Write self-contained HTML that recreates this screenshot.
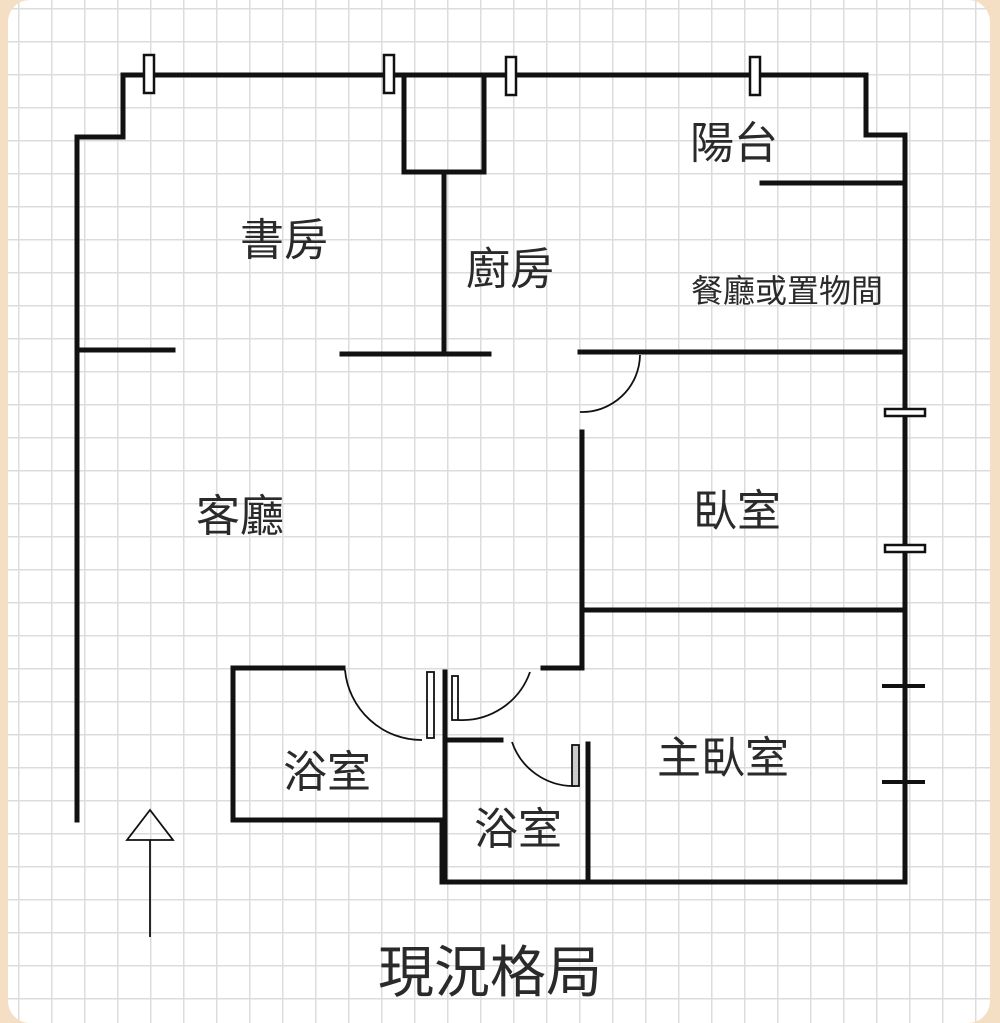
<!DOCTYPE html>
<html><head><meta charset="utf-8"><style>
html,body{margin:0;padding:0;}
body{width:1000px;height:1023px;background:#f5dfc4;position:relative;overflow:hidden;}
.card{position:absolute;left:8px;top:0;width:982px;height:1023px;border-radius:22px;background-color:#fff;
background-image:linear-gradient(#dcdcdc 1.5px,transparent 1.5px),linear-gradient(90deg,#dcdcdc 1.5px,transparent 1.5px);
background-size:33px 33px;background-position:10px 8px;}
svg{position:absolute;left:0;top:0;}
text{font-family:"Liberation Sans","Noto Sans CJK TC",sans-serif;fill:#2a2a2a;}
</style></head><body>
<div class="card"></div>
<svg width="1000" height="1023" viewBox="0 0 1000 1023">
<g stroke="#111" stroke-width="5" fill="none" stroke-linecap="square">
<polyline points="77,820 77,137 123,137 123,75 866,75 866,135 905,135 905,882 442,882 442,820 233,820 233,668 343,668"/>
<rect x="404" y="75" width="80" height="97"/>
<line x1="444" y1="172" x2="444" y2="352"/>
<line x1="80" y1="350" x2="173" y2="350"/>
<line x1="342" y1="354" x2="489" y2="354"/>
<line x1="580" y1="352" x2="905" y2="352"/>
<line x1="762" y1="183" x2="905" y2="183"/>
<polyline points="582,432 582,668 543,668"/>
<line x1="584" y1="610" x2="905" y2="610"/>
<line x1="445" y1="672" x2="445" y2="882"/>
<line x1="447" y1="740" x2="501" y2="740"/>
<line x1="588" y1="744" x2="588" y2="882"/>
</g>
<g stroke="#111" stroke-width="1.8" fill="none">
<path d="M640,355 A58,58 0 0 1 580,412"/>
<path d="M345,670 A77,77 0 0 0 422,740"/>
<path d="M530,672 A72,72 0 0 1 458,720"/>
<path d="M512,742 A65,65 0 0 0 575,786"/>
<rect x="427" y="672" width="7" height="66"/>
<rect x="452" y="676" width="6" height="44"/>
<rect x="572" y="745" width="7" height="41" fill="#ccc"/>
<polygon points="150,810 127,840 173,840"/>
<line x1="150" y1="840" x2="150" y2="937"/>
</g>
<g stroke="#111" stroke-width="2.5" fill="#fff">
<rect x="144" y="55" width="10" height="38"/>
<rect x="384" y="55" width="10" height="38"/>
<rect x="506" y="57" width="10" height="38"/>
<rect x="750" y="57" width="10" height="38"/>
<rect x="885" y="409" width="40" height="7"/>
<rect x="885" y="545" width="40" height="7"/>
</g>
<g stroke="#111" stroke-width="4">
<line x1="882" y1="686" x2="925" y2="686"/>
<line x1="882" y1="782" x2="925" y2="782"/>
</g>
<g font-size="44">
<text x="240" y="255">書房</text>
<text x="466" y="284">廚房</text>
<text x="690" y="158">陽台</text>
<text x="196" y="531">客廳</text>
<text x="693" y="526">臥室</text>
<text x="657" y="773">主臥室</text>
<text x="283" y="787">浴室</text>
<text x="474" y="844">浴室</text>
</g>
<text x="691" y="302" font-size="32">餐廳或置物間</text>
<text x="378" y="992" font-size="56">現況格局</text>
</svg>
</body></html>
